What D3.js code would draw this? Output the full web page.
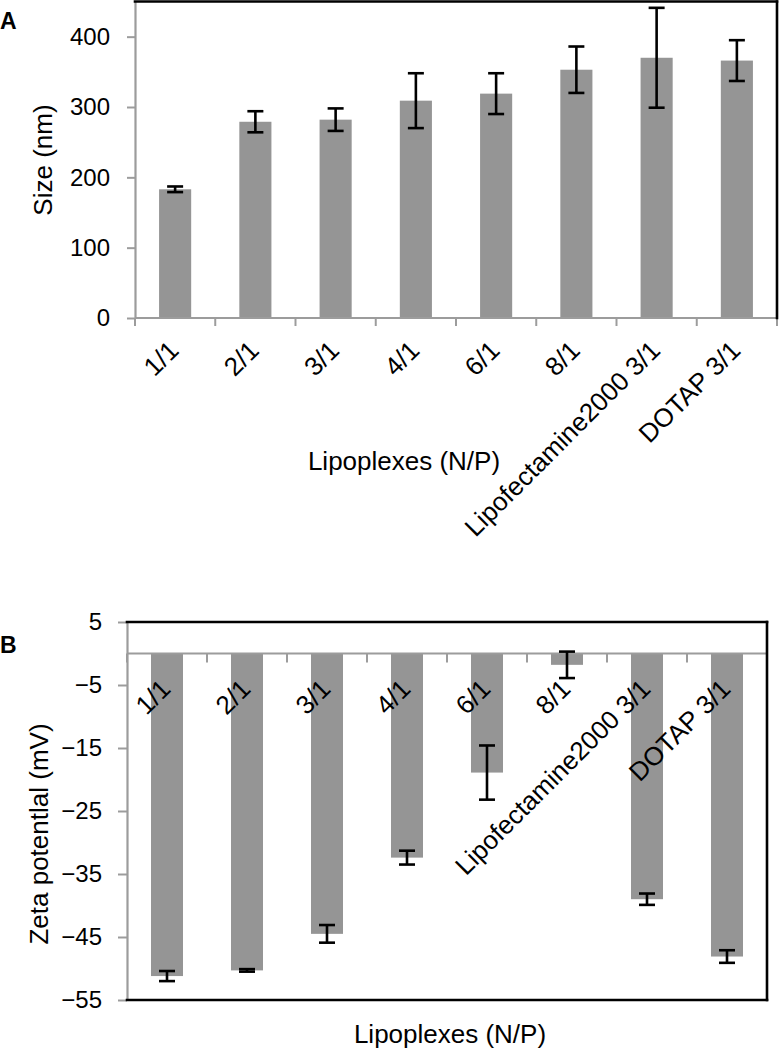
<!DOCTYPE html>
<html>
<head>
<meta charset="utf-8">
<script src="https://cdn.jsdelivr.net/npm/d3@7"></script>
<style>
  html, body { margin: 0; padding: 0; background: #fff; }
  svg { display: block; font-family: "Liberation Sans", Arial, sans-serif; }
</style>
</head>
<body>
<svg id="chart" width="780" height="1050"></svg>
<script>
const categories = ["1/1", "2/1", "3/1", "4/1", "6/1", "8/1", "Lipofectamine2000 3/1", "DOTAP 3/1"];
const sizeValues = [183, 279, 282, 309, 319, 353, 370, 366];
const sizeErrors = [4, 15, 16, 39, 29, 33, 71, 29];
const zetaValues = [-51.2, -50.3, -44.5, -32.4, -18.9, -1.8, -39.0, -48.1];
const zetaErrors = [0.8, 0.2, 1.4, 1.1, 4.3, 2.1, 0.9, 1.0];
const sizeTicks = [0, 100, 200, 300, 400];
const zetaTicks = [5, -5, -15, -25, -35, -45, -55];
const xTitle = "Lipoplexes (N/P)";
const sizeTitle = "Size (nm)";
const zetaTitle = "Zeta potentlal (mV)";

const svg = d3.select("#chart");
const BAR = "#959595", AXIS = "#9c9c9c";

function panel(opts) {
  const g = svg.append("g");
  const x = d3.scaleBand().domain(categories).range([opts.left, opts.right])
    .paddingInner(0.6).paddingOuter(0.3);
  const y = d3.scaleLinear().domain(opts.domain).range([opts.bottom, opts.top]);
  const base = y(opts.baseValue);
  const data = categories.map((c, i) => ({c, v: opts.values[i], e: opts.errors[i]}));

  // bars
  g.selectAll("rect.bar").data(data).join("rect")
    .attr("x", d => x(d.c))
    .attr("width", x.bandwidth())
    .attr("y", d => Math.min(y(d.v), base))
    .attr("height", d => Math.abs(y(d.v) - base))
    .attr("fill", BAR);

  // y axis
  const ya = g.append("g").attr("transform", `translate(${opts.left},0)`)
    .call(d3.axisLeft(y).tickValues(opts.ticks).tickSize(opts.tickLen)
      .tickSizeOuter(0).tickPadding(opts.tickPad).tickFormat(d3.format("d")));
  ya.select(".domain").attr("stroke", AXIS).attr("stroke-width", 2.2);
  ya.selectAll(".tick line").attr("stroke", AXIS).attr("stroke-width", 2);
  ya.selectAll(".tick text").attr("font-size", 24).attr("fill", "#000")
    .attr("font-family", "Liberation Sans, Arial, sans-serif");

  // category axis line + boundary ticks
  g.append("line").attr("x1", opts.left).attr("x2", opts.right)
    .attr("y1", base).attr("y2", base).attr("stroke", AXIS).attr("stroke-width", 2.2);
  const bounds = d3.range(categories.length + 1).map(i => opts.left + i * x.step());
  g.selectAll("line.xt").data(bounds).join("line")
    .attr("x1", d => d).attr("x2", d => d)
    .attr("y1", base).attr("y2", base + opts.tickLen)
    .attr("stroke", AXIS).attr("stroke-width", 2);

  // borders (black)
  const bp = [[opts.left, opts.top, opts.right, opts.top], [opts.right, opts.top, opts.right, opts.bottom]];
  if (opts.bottomBorder) bp.push([opts.left, opts.bottom, opts.right, opts.bottom]);
  g.selectAll("line.border").data(bp).join("line")
    .attr("x1", d => d[0]).attr("y1", d => d[1]).attr("x2", d => d[2]).attr("y2", d => d[3])
    .attr("stroke", "#000").attr("stroke-width", 2.6).attr("stroke-linecap", "square");

  // category labels
  g.selectAll("text.cat").data(categories).join("text")
    .attr("transform", c => `translate(${x(c) + x.bandwidth() / 2 + 5},${base + opts.labelOff}) rotate(-45)`)
    .attr("text-anchor", "end").attr("font-size", 26).attr("fill", "#000")
    .text(c => c);

  // error bars
  const eb = g.selectAll("g.err").data(data).join("g")
    .attr("stroke", "#000").attr("stroke-width", 2.6);
  const cx = d => x(d.c) + x.bandwidth() / 2;
  eb.append("line").attr("x1", cx).attr("x2", cx)
    .attr("y1", d => y(d.v - d.e)).attr("y2", d => y(d.v + d.e));
  eb.append("line").attr("x1", d => cx(d) - 8).attr("x2", d => cx(d) + 8)
    .attr("y1", d => y(d.v - d.e)).attr("y2", d => y(d.v - d.e));
  eb.append("line").attr("x1", d => cx(d) - 8).attr("x2", d => cx(d) + 8)
    .attr("y1", d => y(d.v + d.e)).attr("y2", d => y(d.v + d.e));

  // titles
  g.append("text").attr("x", opts.xTitleX).attr("y", opts.xTitleY)
    .attr("text-anchor", "middle").attr("font-size", 26).text(xTitle);
  g.append("text")
    .attr("transform", `translate(${opts.yTitleX},${opts.yTitleY}) rotate(-90)`)
    .attr("text-anchor", "middle").attr("font-size", 26).text(opts.yTitle);
  g.append("text").attr("x", 0).attr("y", opts.letterY)
    .attr("font-size", 23).attr("font-weight", "bold").text(opts.letter);
}

panel({
  left: 135, right: 777, top: 1.5, bottom: 318,
  domain: [0, 450], baseValue: 0,
  values: sizeValues, errors: sizeErrors, ticks: sizeTicks,
  tickLen: 8, tickPad: 17, labelOff: 34, bottomBorder: false,
  xTitleX: 404, xTitleY: 470, yTitleX: 52, yTitleY: 160, yTitle: sizeTitle,
  letter: "A", letterY: 29
});

panel({
  left: 127, right: 767, top: 622, bottom: 1000,
  domain: [-55, 5], baseValue: 0,
  values: zetaValues, errors: zetaErrors, ticks: zetaTicks,
  tickLen: 9, tickPad: 16, labelOff: 37, bottomBorder: true,
  xTitleX: 450, xTitleY: 1043, yTitleX: 48, yTitleY: 834, yTitle: zetaTitle,
  letter: "B", letterY: 653
});
</script>
</body>
</html>
